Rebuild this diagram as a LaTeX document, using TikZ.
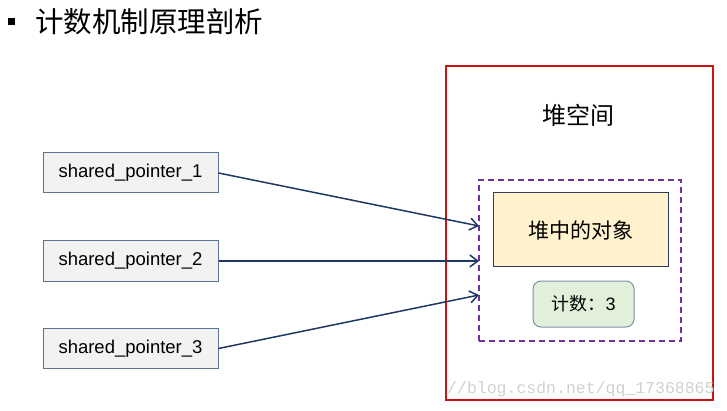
\documentclass[tikz,border=0pt]{standalone}
\usepackage{fontspec}
\setmainfont{Liberation Sans}
\newfontfamily\cjk{Noto Sans CJK SC}
\newfontfamily\wmfont{Liberation Mono}
\usetikzlibrary{arrows.meta}
\definecolor{ptrfill}{HTML}{F2F2F2}
\definecolor{ptrdraw}{HTML}{5A7398}
\definecolor{objfill}{HTML}{FFF2CC}
\definecolor{objdraw}{HTML}{2E3C5A}
\definecolor{cntfill}{HTML}{E2F0D9}
\definecolor{cntdraw}{HTML}{7D8FB0}
\definecolor{heapred}{HTML}{CC1111}
\definecolor{dashpurple}{HTML}{7030A0}
\definecolor{arrnavy}{HTML}{1F3864}
\begin{document}
\begin{tikzpicture}[x=1pt,y=-1pt,
  ptrbox/.style={draw=ptrdraw,fill=ptrfill,line width=1pt,minimum width=175pt,minimum height=40pt,inner sep=0pt,font=\fontsize{18.5}{21}\selectfont},
  arr/.style={draw=arrnavy,line width=1.5pt,-{Straight Barb[length=8pt,width=12pt,line width=1.5pt]}},
  every node/.style={inner sep=0pt}]
\useasboundingbox (0,0) rectangle (727,411);
\fill[white] (0,0) rectangle (727,411);
% title
\node[fill=black,minimum width=7pt,minimum height=7pt] (bullet) at (11.5,21.5) {};
\node[anchor=west,font=\cjk\fontsize{28.5}{32}\selectfont] (title) at (35,22) {计数机制原理剖析};
% heap
\node[draw=heapred,line width=1.5pt,minimum width=267pt,minimum height=334pt] (heap) at (579.5,233) {};
\node[font=\cjk\fontsize{24}{28}\selectfont] (heaplabel) at (578,115) {堆空间};
\node[draw=dashpurple,line width=2pt,dash pattern=on 6pt off 4pt,minimum width=202pt,minimum height=161pt] (dash) at (580,260.5) {};
\node[draw=objdraw,fill=objfill,line width=1pt,minimum width=175pt,minimum height=74pt,font=\cjk\fontsize{21}{24}\selectfont] (obj) at (580.5,230) {堆中的对象};
\node[draw=cntdraw,fill=cntfill,line width=1pt,rounded corners=8pt,minimum width=101pt,minimum height=46pt,font=\cjk\fontsize{18}{22}\selectfont] (cnt) at (583.5,304) {计数：{\rmfamily 3}};
% pointers
\node[ptrbox] (p1) at (130.5,173) {shared\_pointer\_1};
\node[ptrbox] (p2) at (130.5,261) {shared\_pointer\_2};
\node[ptrbox] (p3) at (130.5,348.5) {shared\_pointer\_3};
\coordinate (t1) at (479,226);
\coordinate (t2) at (479,261);
\coordinate (t3) at (479,295);
\draw[arr] (p1.east) -- (t1);
\draw[arr] (p2.east) -- (t2);
\draw[arr] (p3.east) -- (t3);
% watermark
\node[anchor=west,text=black!18,font=\wmfont\fontsize{16.5}{18}\selectfont] (wm) at (447,389) {//blog.csdn.net/qq\_17368865};
\end{tikzpicture}
\end{document}
